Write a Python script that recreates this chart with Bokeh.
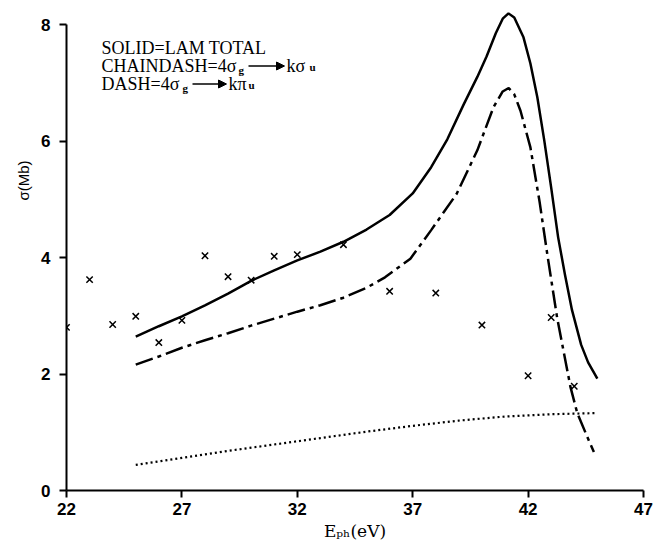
import math
from bokeh.plotting import figure
from bokeh.models import Range1d, FixedTicker, Label, Arrow, NormalHead, Title
from bokeh.embed import file_html
from bokeh.resources import INLINE

# ---------------- data ----------------
x_ticks = [22, 27, 32, 37, 42, 47]
y_ticks = [0, 2, 4, 6, 8]

# measured cross sections (crosses)
exp_x = [22, 23, 24, 25, 26, 27, 28, 29, 30, 31, 32, 34, 36, 38, 40, 42, 43, 44]
exp_y = [2.80, 3.62, 2.85, 2.99, 2.54, 2.92, 4.03, 3.67, 3.61, 4.02, 4.05, 4.22,
         3.42, 3.39, 2.84, 1.97, 2.97, 1.79]

# SOLID = LAM total
solid_x = [25, 26, 27, 28, 29, 30, 31, 32, 33, 34, 35, 36, 37, 37.8, 38.5, 39.2,
           39.8, 40.2, 40.6, 40.9, 41.15, 41.4, 41.8, 42.1, 42.4, 42.7, 43.0, 43.3,
           43.6, 43.9, 44.3, 44.6, 45.0]
solid_y = [2.64, 2.82, 2.99, 3.18, 3.38, 3.60, 3.78, 3.95, 4.10, 4.27, 4.48, 4.73,
           5.10, 5.55, 6.03, 6.62, 7.10, 7.45, 7.85, 8.10, 8.19, 8.12, 7.78, 7.33,
           6.75, 6.01, 5.20, 4.35, 3.70, 3.10, 2.50, 2.20, 1.92]

# CHAINDASH = 4sigma_g -> k sigma_u
chain_x = [25, 26, 27, 28, 29, 30, 31, 32, 33, 34, 35, 35.8, 36.9, 37.8, 38.9,
           39.8, 40.5, 40.9, 41.16, 41.4, 41.67, 42.1, 42.5, 42.83, 43.26, 43.84,
           44.13, 44.5, 44.85]
chain_y = [2.16, 2.30, 2.45, 2.58, 2.70, 2.83, 2.95, 3.07, 3.18, 3.31, 3.48, 3.66,
           3.98, 4.47, 5.09, 5.84, 6.58, 6.85, 6.91, 6.80, 6.52, 5.89, 4.95, 4.06,
           2.96, 1.77, 1.33, 0.98, 0.66]

# DASH = 4sigma_g -> k pi_u
dash_x = [25, 27, 29, 31, 33, 35, 37, 39, 41, 43, 45]
dash_y = [0.44, 0.56, 0.68, 0.79, 0.90, 1.01, 1.11, 1.20, 1.27, 1.31, 1.33]

# ---------------- layout constants ----------------
W, H = 659, 543
FRAME_L, FRAME_R, FRAME_T, FRAME_B = 66, 643, 7, 490   # pixel edges of the frame
PX_PER_X = (FRAME_R - FRAME_L) / 25.0
PX_PER_Y = 466.0 / 8.0
y_top = (FRAME_B - FRAME_T) / PX_PER_Y

p = figure(width=W, height=H, x_range=Range1d(22, 47),
           y_range=Range1d(0, y_top),
           output_backend="svg", toolbar_location=None,
           min_border_left=FRAME_L, min_border_right=W - FRAME_R,
           min_border_top=FRAME_T, min_border_bottom=H - FRAME_B)
p.title.visible = False
p.xgrid.visible = False
p.ygrid.visible = False
p.outline_line_color = None
p.background_fill_color = "white"
p.border_fill_color = "white"

for ax in (p.xaxis[0], p.yaxis[0]):
    ax.axis_line_width = 2
    ax.axis_line_color = "black"
    ax.major_tick_line_width = 2
    ax.major_tick_line_color = "black"
    ax.major_tick_out = 7
    ax.major_tick_in = 0
    ax.minor_tick_line_color = None
    ax.major_label_text_font = "Liberation Sans"
    ax.major_label_text_font_style = "bold"
    ax.major_label_text_font_size = "17px"
    ax.major_label_text_color = "black"
p.xaxis.ticker = FixedTicker(ticks=x_ticks)
p.yaxis.ticker = FixedTicker(ticks=y_ticks)
p.xaxis.bounds = (22, 47)
p.yaxis.bounds = (0, 8)
p.xaxis.major_label_standoff = 5
p.yaxis.major_label_standoff = 9

p.xaxis.axis_label = "Eₚₕ(eV)"
p.xaxis.axis_label_text_font = "DejaVu Serif"
p.xaxis.axis_label_text_font_style = "normal"
p.xaxis.axis_label_text_font_size = "17px"
p.xaxis.axis_label_text_color = "black"
p.xaxis.axis_label_standoff = 3

p.add_layout(Title(text="σ(Mb)", align="left", offset=290, standoff=14,
                   text_font="Liberation Sans", text_font_style="normal",
                   text_font_size="15px", text_color="black"), "left")

p.line(solid_x, solid_y, line_color="black", line_width=2.5)
p.line(chain_x, chain_y, line_color="black", line_width=2.5, line_dash="18 5 4 5")
p.line(dash_x, dash_y, line_color="black", line_width=2.2, line_dash="2 3")
p.scatter(exp_x, exp_y, marker="x", size=9, line_color="black", line_width=1.5)

TXT_SHIFT = -5.5   # compensates the rendered baseline offset of labels


# helpers converting reference pixel positions (layout) into data units
def dx(px):
    return 22 + (px - FRAME_L) / PX_PER_X


def dy(py):
    return (FRAME_B - py) / PX_PER_Y


SERIF = "Liberation Serif"


def lab(text, px, py, size="18px", style="normal"):
    p.add_layout(Label(x=dx(px), y=dy(py + TXT_SHIFT), text=text, text_font=SERIF,
                       text_font_style=style, text_font_size=size,
                       text_color="black", text_baseline="alphabetic"))


def arrow(px0, px1, py):
    p.add_layout(Arrow(x_start=dx(px0), y_start=dy(py), x_end=dx(px1), y_end=dy(py),
                       line_width=1.5, line_color="black",
                       end=NormalHead(size=8, fill_color="black", line_color="black")))


# legend text block
lab("SOLID=LAM TOTAL", 101, 52.5)
lab("CHAINDASH=4σ", 101, 71.3)
lab("g", 238, 74.5, size="11px", style="bold")
arrow(248, 284, 65.5)
lab("kσ", 286, 71.3)
lab("u", 309, 71.5, size="11px", style="bold")
lab("DASH=4σ", 101, 89.3)
lab("g", 182, 92.5, size="11px", style="bold")
arrow(192, 226, 83.5)
lab("kπ", 228, 89.3)
lab("u", 248, 89.5, size="11px", style="bold")

open("out.html", "w").write(file_html(p, INLINE))
